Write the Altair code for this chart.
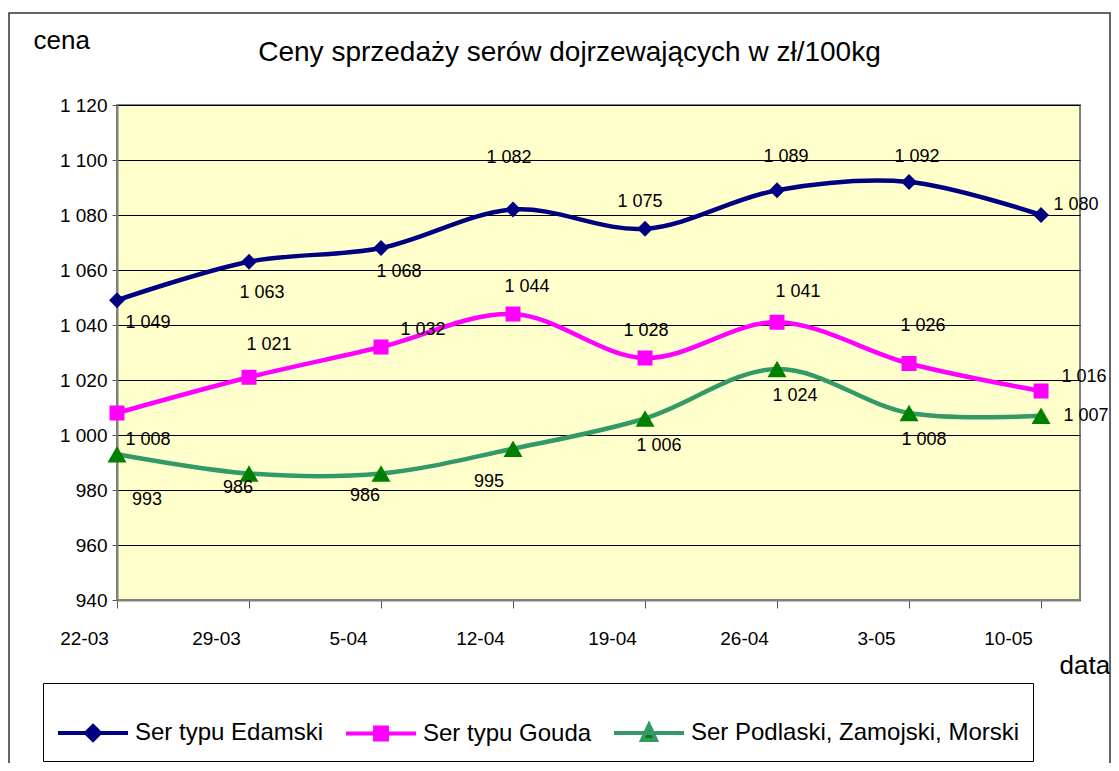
import altair as alt
import pandas as pd

# ---- data ----
dates = ["22-03", "29-03", "5-04", "12-04", "19-04", "26-04", "3-05", "10-05"]
series_names = ["Ser typu Edamski", "Ser typu Gouda", "Ser Podlaski, Zamojski, Morski"]
edamski = [1049, 1063, 1068, 1082, 1075, 1089, 1092, 1080]
gouda = [1008, 1021, 1032, 1044, 1028, 1041, 1026, 1016]
podlaski = [993, 986, 986, 995, 1006, 1024, 1008, 1007]
y_ticks = [940, 960, 980, 1000, 1020, 1040, 1060, 1080, 1100, 1120]

# ---- label placement offsets (pixels, styling only) ----
edamski_dx = [31, 13, 18, -4, -5, 9, 8, 35]
edamski_dy = [23, 31, 24, -52, -27, -33, -25, -10]
gouda_dx = [31, 20, 42, 14, 1, 21, 14, 43]
gouda_dy = [27, -32, -17, -27, -27, -30, -38, -14]
podlaski_dx = [30, -11, -16, -24, 14, 18, 15, 45]
podlaski_dy = [46, 14, 22, 33, 27, 27, 27, 0]

# plot geometry (pixels per data unit) used to turn pixel offsets into data offsets
PLOT_W, PLOT_H = 963, 495
X_MAX = 7.295
Y_MIN, Y_MAX = 940, 1120
PX_PER_X = PLOT_W / X_MAX
PX_PER_Y = PLOT_H / (Y_MAX - Y_MIN)

line_colors = ["#000080", "#FF00FF", "#339966"]
marker_colors = ["#000080", "#FF00FF", "#008000"]
marker_shapes = ["diamond", "square", "triangle-up"]
marker_sizes = [250, 225, 361]
legend_shapes = [
    "M-1,0L1,0M0,-0.2L0.2,0L0,0.2L-0.2,0Z",
    "M-1,0L1,0M-0.17,-0.17L0.17,-0.17L0.17,0.17L-0.17,0.17Z",
    "M-1,0L1,0M0,-0.23L0.2,0.2L-0.2,0.2Z",
]

rows = []
for s, vals, dxs, dys in zip(series_names, [edamski, gouda, podlaski],
                             [edamski_dx, gouda_dx, podlaski_dx],
                             [edamski_dy, gouda_dy, podlaski_dy]):
    for i, (d, v, dx, dy) in enumerate(zip(dates, vals, dxs, dys)):
        rows.append(dict(series=s, idx=i, date=d, value=v, dx=dx, dy=dy,
                         label=f"{v:,}".replace(",", " ")))
df = pd.DataFrame(rows)

FONT = "Liberation Sans"
label_expr_x = "[" + ",".join(f"'{d}'" for d in dates) + "][datum.value]"

x_scale = alt.Scale(domain=[0, X_MAX], nice=False, zero=False)
y_scale = alt.Scale(domain=[Y_MIN, Y_MAX], nice=False, zero=False)
x_axis = alt.Axis(
    values=list(range(len(dates))), labelExpr=label_expr_x, labelOffset=-33,
    labelFlush=False, labelOverlap=False, grid=False, tickSize=8,
    labelPadding=21, labelBaseline="top", labelFontSize=19, labelColor="black",
    domainColor="#808080", domainWidth=2, tickColor="#555555", tickWidth=1,
    title="data", titleX=942, titleY=73, titleAlign="left",
    titleBaseline="alphabetic", titleFontSize=26, titleFontWeight="normal",
    titleColor="black", titleFont=FONT, labelFont=FONT,
)
y_axis = alt.Axis(
    values=y_ticks, labelExpr="replace(format(datum.value, ','), ',', ' ')",
    grid=True, gridColor="#000000", gridWidth=1, tickSize=5, labelPadding=5,
    labelFontSize=19, labelColor="black", domainColor="#808080", domainWidth=2,
    tickColor="#555555", title="cena", titleAngle=0, titleX=-84, titleY=-57,
    titleAlign="left", titleBaseline="alphabetic", titleFontSize=26,
    titleFontWeight="normal", titleColor="black", titleFont=FONT, labelFont=FONT,
)
x_enc = alt.X("idx:Q", scale=x_scale, axis=x_axis)
y_enc = alt.Y("value:Q", scale=y_scale, axis=y_axis)

border = alt.Chart(alt.Data(values=[{"a": 1}])).mark_rect(
    filled=False, stroke="#333333", strokeWidth=1.5, clip=False
).encode(x=alt.value(-108), x2=alt.value(993), y=alt.value(-92), y2=alt.value(720))

layers = [border]
for s, lc in zip(series_names, line_colors):
    layers.append(
        alt.Chart(df).transform_filter(alt.datum.series == s)
        .mark_line(color=lc, strokeWidth=4.5, interpolate="catmull-rom")
        .encode(x=x_enc, y=y_enc)
    )
for s, mc, sh, sz in zip(series_names, marker_colors, marker_shapes, marker_sizes):
    layers.append(
        alt.Chart(df).transform_filter(alt.datum.series == s)
        .mark_point(shape=sh, filled=True, color=mc, size=sz, opacity=1)
        .encode(x=x_enc, y=y_enc)
    )
layers.append(
    alt.Chart(df)
    .transform_calculate(
        lx=f"datum.idx + datum.dx / {PX_PER_X}",
        ly=f"datum.value - datum.dy / {PX_PER_Y}",
    )
    .mark_text(fontSize=18, font=FONT, color="black", align="center", baseline="middle")
    .encode(x=alt.X("lx:Q", scale=x_scale, axis=x_axis),
            y=alt.Y("ly:Q", scale=y_scale, axis=y_axis),
            text="label:N")
)

leg = alt.Legend(
    title=None, orient="none", legendX=-74, legendY=578, direction="horizontal",
    columns=3, fillColor="white", strokeColor="#000000", padding=13,
    columnPadding=14, labelFontSize=24, labelFont=FONT, labelColor="black",
    labelOffset=5, symbolSize=4900, symbolStrokeWidth=4, labelLimit=0,
)
layers.append(
    alt.Chart(df).transform_filter("datum.value < 0")
    .mark_point(filled=True, opacity=1)
    .encode(
        x=x_enc, y=y_enc,
        fill=alt.Fill("series:N", scale=alt.Scale(domain=series_names, range=marker_colors), legend=leg),
        stroke=alt.Stroke("series:N", scale=alt.Scale(domain=series_names, range=line_colors), legend=leg),
        shape=alt.Shape("series:N", scale=alt.Scale(domain=series_names, range=legend_shapes), legend=leg),
    )
)

chart = alt.layer(*layers).properties(
    width=PLOT_W, height=PLOT_H,
    autosize=alt.AutoSizeParams(type="none"),
    padding={"left": 109, "top": 97, "right": 31, "bottom": 163},
    title=alt.TitleParams(
        "Ceny sprzedaży serów dojrzewających w zł/100kg", fontSize=28,
        fontWeight="normal", font=FONT, color="black", anchor="middle",
        frame="group", dx=-29, offset=0, dy=77, baseline="alphabetic",
    ),
).configure(
    background="white", font=FONT
).configure_view(
    fill="#FFFFCC", stroke="#808080", strokeWidth=2
)

chart.save("out.html", embed_options={"renderer": "svg", "actions": False})
